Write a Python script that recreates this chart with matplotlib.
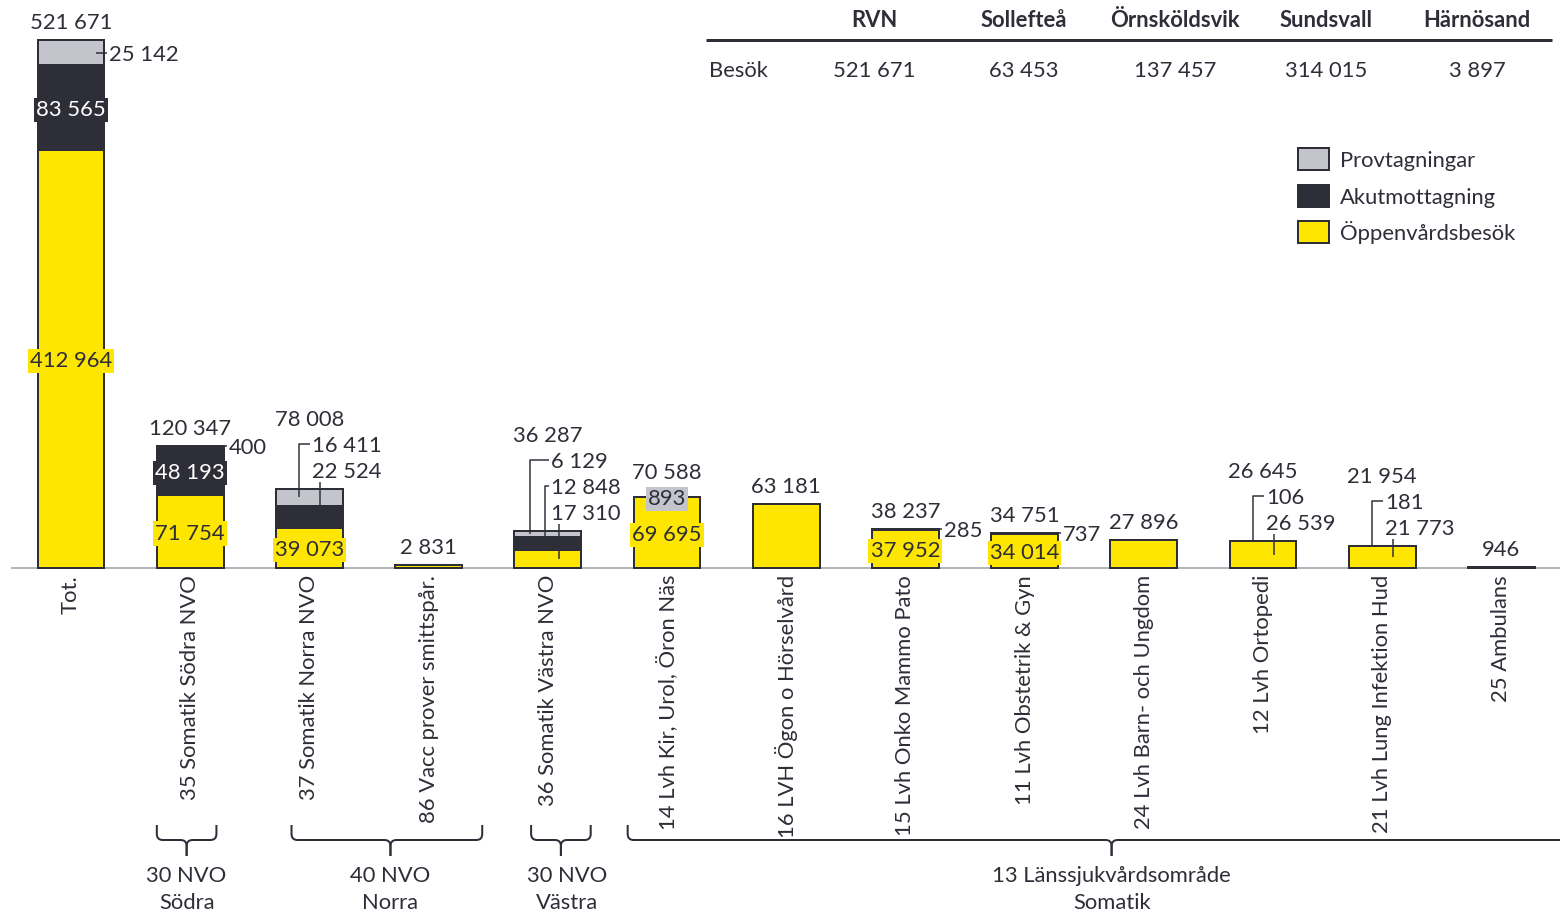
import matplotlib
matplotlib.use("Agg")
import matplotlib.pyplot as plt
import matplotlib.transforms as mtransforms
from matplotlib.path import Path
from matplotlib.patches import PathPatch, Rectangle
import numpy as np

plt.rcParams['font.family'] = ['Lato', 'DejaVu Sans']

YELLOW = "#FFE600"
DARK = "#2E2E38"
GREY = "#C4C4CD"
AXIS = "#B4B4BB"

# besök per enhet, uppdelat på typ
categories = ["Tot.", "35 Somatik Södra NVO", "37 Somatik Norra NVO",
              "86 Vacc prover smittspår.", "36 Somatik Västra NVO",
              "14 Lvh Kir, Urol, Öron Näs", "16 LVH Ögon o Hörselvård",
              "15 Lvh Onko Mammo Pato", "11 Lvh Obstetrik & Gyn",
              "24 Lvh Barn- och Ungdom", "12 Lvh Ortopedi",
              "21 Lvh Lung Infektion Hud", "25 Ambulans"]
oppenvard = [412964, 71754, 39073, 2831, 17310, 69695, 63181, 37952, 34014, 27896, 26539, 21773, 0]
akut      = [83565, 48193, 22524, 0, 12848, 0, 0, 0, 0, 0, 0, 0, 946]
prov      = [25142, 400, 16411, 0, 6129, 893, 0, 285, 737, 0, 106, 181, 0]

legend_labels = ["Provtagningar", "Akutmottagning", "Öppenvårdsbesök"]

table_cols = ["RVN", "Sollefteå", "Örnsköldsvik", "Sundsvall", "Härnösand"]
table_row = "Besök"
table_vals = [521671, 63453, 137457, 314015, 3897]

groups = ["30 NVO\nSödra", "40 NVO\nNorra", "30 NVO\nVästra", "13 Länssjukvårdsområde\nSomatik"]

# hur segmenten etiketteras: inside = i stapeln, side = vid sidan, stack = staplade ovanför
label_modes = [
    {"prov": "side", "akut": "inside", "opp": "inside"},
    {"prov": "side", "akut": "inside", "opp": "inside"},
    {"prov": "stack", "akut": "stack", "opp": "inside"},
    {},
    {"prov": "stack", "akut": "stack", "opp": "stack"},
    {"prov": "inside", "opp": "inside"},
    {},
    {"prov": "side", "opp": "inside"},
    {"prov": "side", "opp": "inside"},
    {},
    {"prov": "stack", "opp": "stack"},
    {"prov": "stack", "opp": "stack"},
    {},
]

# klammer under grupperna (x i stapelindex: start, slut, mitt, text)
group_span = [(0.72, 1.22, 0.97, 0.97), (1.85, 3.45, 2.68, 2.68),
              (3.86, 4.36, 4.11, 4.16), (4.67, 13.0, 8.73, 8.73)]


def fmt(v):
    return f"{v:,}".replace(",", " ")


W, H = 1560, 912
BASE = 568      # nollinjen, pixlar från toppen
STEP = 119.2    # avstånd mellan staplar
X0 = 71
K = 528 / 521671
BAR_W = 0.56
FS = 22
CAP = 8

fig = plt.figure(figsize=(W / 72, H / 72), dpi=72)
ax = fig.add_axes([0, 0, 1, 1])
ax.axis("off")
ax.set_xlim(-X0 / STEP, (W - X0) / STEP)
ax.set_ylim((BASE - H) / K, BASE / K)

pix = mtransforms.Affine2D().scale(1, -1).translate(0, H)


def ypx(v):
    return BASE - v * K


def put(x, y, s, ha="center", color=DARK, **kw):
    return ax.text(x, y + CAP, s, ha=ha, va="baseline", fontsize=FS, color=color,
                   transform=pix, **kw)


def line(xs, ys, lw=1.5):
    ax.plot(xs, ys, color=DARK, lw=lw, transform=pix, solid_capstyle="butt")


x = np.arange(len(categories))
opp = np.array(oppenvard)
ak = np.array(akut)
pr = np.array(prov)

ax.plot([12, W], [BASE, BASE], color=AXIS, lw=2, transform=pix, zorder=0)

ax.bar(x, opp, BAR_W, color=YELLOW, edgecolor=DARK, lw=2)
ax.bar(x, ak, BAR_W, bottom=opp, color=DARK, edgecolor=DARK, lw=2)
ax.bar(x, pr, BAR_W, bottom=opp + ak, color=GREY, edgecolor=DARK, lw=2)

half = BAR_W * STEP / 2
for i in range(len(categories)):
    xc = X0 + STEP * i
    segs = [("opp", opp[i], YELLOW), ("akut", ak[i], DARK), ("prov", pr[i], GREY)]
    bottom = 0
    info = {}
    for name, v, col in segs:
        info[name] = (v, ypx(bottom + v / 2), col, v * K)
        bottom += v
    total = bottom
    top = ypx(total)
    modes = label_modes[i]

    stack = [n for n in ("prov", "akut", "opp") if modes.get(n) == "stack"]
    ns = len(stack)
    hooks = {1: [xc - 10], 2: [xc - 18, xc - 3]}.get(ns - 1, [])
    for j, name in enumerate(stack):
        v, mid, col, h = info[name]
        ly = top - 19 - 26 * (ns - 1 - j)
        put(xc + 3, ly, fmt(v), ha="left")
        if j == ns - 1:
            line([xc + 11, xc + 11], [ly + 12, mid])
        else:
            hx = hooks[j]
            line([xc + 1, hx, hx], [ly, ly, mid])

    raise_px = 0
    for name in ("prov", "akut", "opp"):
        mode = modes.get(name)
        v, mid, col, h = info[name]
        if mode == "inside":
            put(xc, mid, fmt(v), color="white" if name == "akut" else DARK,
                bbox=dict(boxstyle="square,pad=0.1", fc=col, ec="none"))
            if h < 15:
                raise_px = 7
        elif mode == "side":
            line([xc + half - 8, xc + half + 3], [mid, mid])
            put(xc + half + 5, mid, fmt(v), ha="left")

    put(xc, top - 19 - 26 * ns - raise_px, fmt(total))

    ax.text(xc, 575, categories[i], rotation=90, ha="center", va="top",
            fontsize=FS, color=DARK, transform=pix)

# gruppklammer
for (g0, g1, gc, gt), name in zip(group_span, groups):
    x0, x1, xm, xt = (X0 + STEP * g for g in (g0, g1, gc, gt))
    yt, yh, ye, r = 825, 840, 856, 6
    for xa, sgn in ((x0, 1), (x1, -1)):
        verts = [(xa, yt), (xa, yh - r), (xa, yh), (xa + sgn * r, yh),
                 (xm - sgn * r, yh), (xm, yh), (xm, yh + r), (xm, ye)]
        codes = [Path.MOVETO, Path.LINETO, Path.CURVE3, Path.CURVE3,
                 Path.LINETO, Path.CURVE3, Path.CURVE3, Path.LINETO]
        ax.add_patch(PathPatch(Path(verts, codes), fc="none", ec=DARK, lw=2,
                               transform=pix))
    l1, l2 = name.split("\n")
    put(xt, 874, l1)
    put(xt, 901, l2)

# tabell uppe till höger
col_x = [874, 1024, 1175, 1326, 1477]
line([706, 1552], [40, 40], lw=3)
for cx, c, v in zip(col_x, table_cols, table_vals):
    put(cx, 19, c, fontweight="bold")
    put(cx, 69, fmt(v))
put(709, 69, table_row, ha="left")

# förklaring
for k, (lab, col) in enumerate(zip(legend_labels, [GREY, DARK, YELLOW])):
    yc = 159 + 36.5 * k
    ax.add_patch(Rectangle((1298, yc - 11), 31, 22, fc=col, ec=DARK, lw=2,
                           transform=pix))
    put(1340, yc, lab, ha="left")

fig.savefig("out.png", dpi=72)
